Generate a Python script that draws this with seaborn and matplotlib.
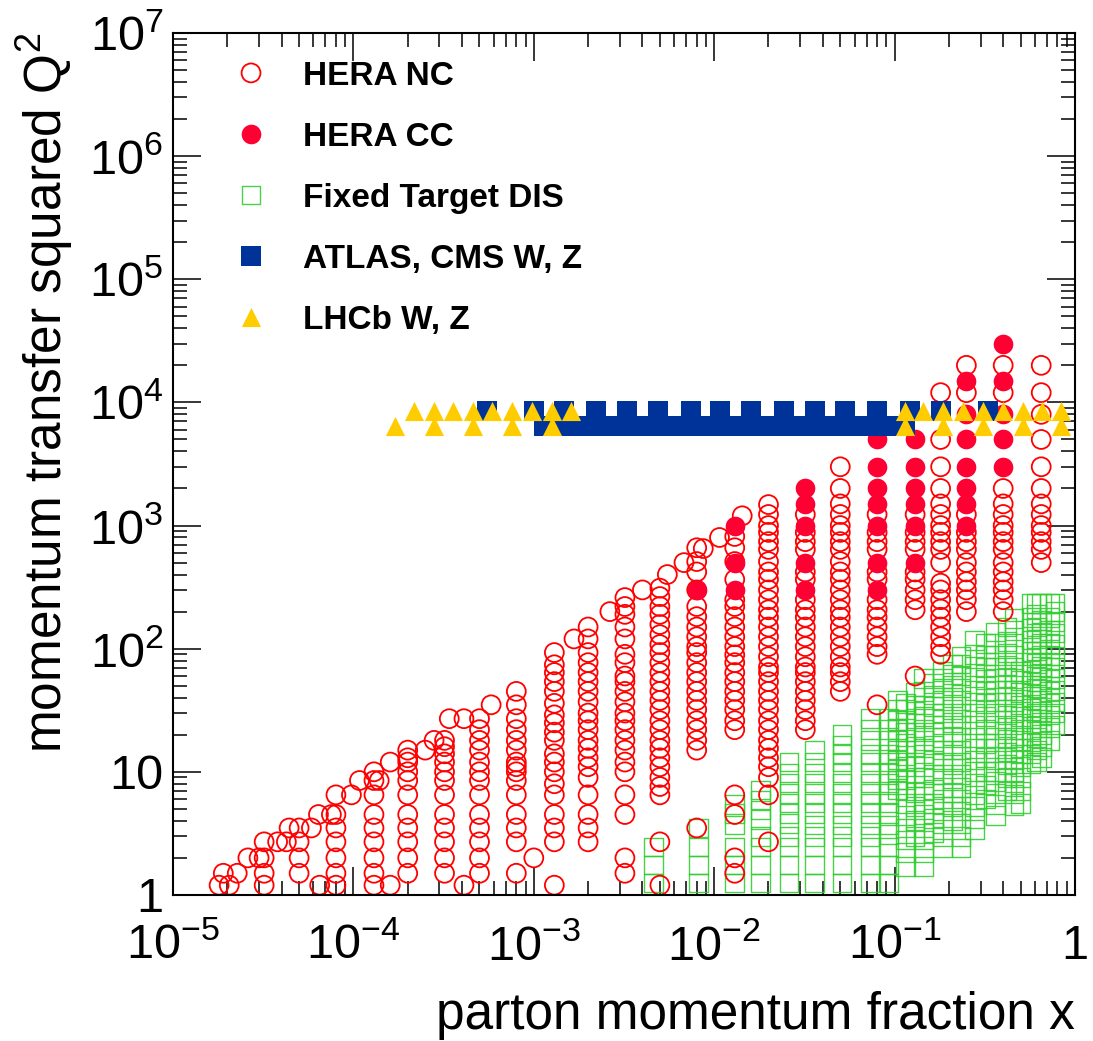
import numpy as np
import pandas as pd
import matplotlib
matplotlib.use("Agg")
import matplotlib.pyplot as plt
import seaborn as sns
from matplotlib.ticker import FixedLocator, FixedFormatter, LogLocator, NullFormatter

# ---------------- data ----------------
# HERA NC : x bin centres and the Q2 values drawn in each column
nc_x = [3.2e-5, 5e-5, 8e-5, 1.3e-4, 2e-4, 3.2e-4, 5e-4, 8e-4, 1.3e-3, 2e-3,
        3.2e-3, 5e-3, 8e-3, 1.3e-2, 2e-2, 3.2e-2, 5e-2, 8e-2, 0.13, 0.18,
        0.25, 0.4, 0.65]
nc_q2_01 = [1.2, 1.5, 2.0, 2.7]
nc_q2_02 = [1.5, 2.0, 2.7, 3.5]
nc_q2_03 = [1.2, 1.5, 2.0, 2.7, 3.5, 4.5, 6.5]
nc_q2_04 = [1.2, 1.5, 2.0, 2.7, 3.5, 4.5, 6.5, 8.5, 10]
nc_q2_05 = [1.5, 2.0, 2.7, 3.5, 4.5, 6.5, 8.5, 10, 12, 13, 15]
nc_q2_06 = [1.5, 2.0, 2.7, 3.5, 4.5, 6.5, 8.5, 10, 12, 14, 16, 18]
nc_q2_07 = [1.5, 2.0, 2.7, 3.5, 4.5, 6.5, 8.5, 10, 12, 15, 18, 22, 27]
nc_q2_08 = [1.5, 2.7, 3.5, 4.5, 6.5, 8.5, 10, 11, 12, 15, 18, 22, 27, 35, 45]
nc_q2_09 = [1.2, 2.7, 3.5, 4.5, 6.5, 8, 10, 12, 14, 18, 21, 25, 29, 36, 45,
            54, 64, 74, 93]
nc_q2_10 = [2.7, 3.5, 4.5, 6.5, 9, 11, 13, 15.5, 18, 22, 26, 30, 37, 45, 54,
            64, 77, 93, 120, 150]
nc_q2_11 = [1.5, 2.0, 4.5, 6.5, 10, 12, 15, 18, 22, 26, 30, 37, 45, 54, 60,
            77, 90, 120, 150, 190, 220, 260]
nc_q2_12 = [1.2, 2.7, 6.5, 7.6, 9, 11, 13, 15.5, 18, 22, 26, 32, 38, 45, 54,
            64, 77, 93, 108, 130, 157, 190, 220, 265, 310]
nc_q2_13 = [3.5, 15, 18, 22, 26, 32, 38, 45, 54, 64, 77, 93, 104, 125, 150,
            182, 220, 300, 420, 510, 660]
nc_q2_14 = [1.5, 2.0, 4.5, 6.5, 22, 26, 32, 38, 45, 54, 64, 77, 89, 104, 125,
            150, 182, 220, 250, 365, 510, 660, 815]
nc_q2_15 = [2.7, 6.5, 9, 11, 13, 15.5, 18, 22, 26, 32, 38, 45, 54, 64, 71, 86,
            104, 125, 150, 180, 207, 250, 300, 365, 420, 510, 640, 740, 880,
            1000, 1230, 1480]
nc_q2_16 = [22, 26, 32, 38, 45, 54, 64, 71, 86, 104, 125, 150, 180, 207, 250,
            365, 420, 640, 740, 880, 1230]
nc_q2_17 = [45, 54, 64, 71, 86, 104, 125, 150, 180, 207, 250, 300, 365, 420,
            510, 640, 740, 880, 1000, 1230, 1500, 2000, 3000]
nc_q2_18 = [35, 90, 104, 125, 150, 180, 207, 250, 365, 420, 640, 740, 880, 1230]
nc_q2_19 = [60, 207, 250, 300, 365, 420, 640, 740, 880, 1230]
nc_q2_20 = [90, 104, 125, 150, 180, 210, 250, 300, 340, 500, 640, 740, 880,
            1000, 1230, 1500, 2000, 3000, 5000, 12000]
nc_q2_21 = [200, 250, 300, 350, 420, 500, 640, 740, 880, 1230, 12000, 20000]
nc_q2_22 = [200, 250, 300, 350, 420, 500, 640, 740, 880, 1000, 1230, 1500,
            2000, 12000, 20000]
nc_q2_23 = [500, 640, 740, 880, 1000, 1230, 1500, 2000, 3000, 5000, 8000,
            12000, 20000]

# HERA NC points off the regular x grid (high-y edge)
nc_edge_x = [1.8e-5, 2.05e-5, 1.9e-5, 2.27e-5, 2.6e-5, 3.0e-5, 3.8e-5, 4.25e-5,
             4.4e-5, 5.85e-5, 6.5e-5, 6.4e-5, 7.55e-5, 9.75e-5, 1.08e-4,
             1.39e-4, 1.6e-4, 1.6e-4, 2.5e-4, 2.8e-4, 3.4e-4, 4.1e-4, 4.1e-4,
             5.8e-4, 1.0e-3, 1.67e-3, 2.64e-3, 4.0e-3, 5.5e-3, 6.8e-3, 8.7e-3,
             1.07e-2, 1.43e-2]
nc_edge_q2 = [1.2, 1.2, 1.5, 1.5, 2.0, 2.0, 2.7, 2.7, 3.5, 3.5, 1.2, 4.5, 4.5,
              6.5, 8.5, 8.5, 1.2, 12, 15, 18, 27, 27, 1.2, 35, 2.0, 120, 200,
              300, 400, 500, 650, 800, 1200]

# HERA CC
cc_x = [8e-3, 1.3e-2, 3.2e-2, 8e-2, 0.13, 0.25, 0.4]
cc_q2_1 = [300]
cc_q2_2 = [300, 500, 1000]
cc_q2_3 = [300, 500, 1000, 1500, 2000]
cc_q2_4 = [300, 500, 1000, 1500, 2000, 3000, 5000]
cc_q2_5 = [500, 1000, 1500, 2000, 3000, 5000]
cc_q2_6 = [1000, 1500, 2000, 3000, 5000, 8000, 15000]
cc_q2_7 = [3000, 5000, 8000, 15000, 30000]

# Fixed target DIS
ft_x = [4.6e-3, 8.2e-3, 1.3e-2, 1.8e-2, 2.6e-2, 3.6e-2, 5.1e-2, 7.3e-2, 9.3e-2,
        0.104, 0.115, 0.13, 0.145, 0.165, 0.185, 0.21, 0.233, 0.278, 0.32,
        0.364, 0.42, 0.46, 0.5, 0.57, 0.61, 0.65, 0.72, 0.775]
ft_q2_01 = [1.25, 1.75, 2.45]
ft_q2_02 = [1.25, 1.75, 2.45, 3.5]
ft_q2_03 = [1.25, 1.75, 2.45, 3.7, 4.6, 5.4]
ft_q2_04 = [1.25, 1.75, 2.45, 3.0, 4.1, 4.9, 5.9, 7.1]
ft_q2_05 = [1.25, 1.75, 2.45, 3.0, 3.8, 4.6, 5.6, 6.7, 8.1, 9.8, 12]
ft_q2_06 = [1.25, 1.75, 2.45, 3.0, 3.7, 4.6, 5.6, 6.7, 8.1, 9.8, 12, 15]
ft_q2_07 = [1.25, 1.75, 2.45, 3.0, 3.7, 4.6, 5.6, 6.7, 8.1, 9.8, 12, 14, 16.5, 20]
ft_q2_08 = [1.25, 1.75, 2.45, 3.0, 3.7, 4.6, 5.6, 6.7, 8.1, 9.8, 12, 14, 18, 22, 27]
ft_q2_09 = [1.25, 1.75, 2.45, 3.1, 3.7, 4.6, 5.6, 6.7, 8.1, 9.8, 12, 14, 18, 22, 27]
ft_q2_10 = [7.1, 8.6, 10.4, 12.5, 15, 18, 22, 26, 32, 38]
ft_q2_11 = [1.7, 2.2, 2.8, 3.5, 4.4, 5.5, 7, 8.7, 11, 13.5, 17, 21, 26, 32, 36]
ft_q2_12 = [3.0, 4.0, 5.2, 6.8, 9, 12, 16, 21, 27, 35, 44]
ft_q2_13 = [1.7, 2.2, 2.8, 3.5, 4.5, 5.5, 7, 9, 11, 14, 18, 22, 28, 35, 45, 57]
ft_q2_14 = [3.2, 4.2, 5.5, 7.2, 9.5, 12.5, 16.5, 21, 27, 34, 42, 52]
ft_q2_15 = [2.4, 3.0, 3.8, 4.8, 6, 7.5, 9.5, 12, 15, 19, 24, 30, 38, 48, 57, 65]
ft_q2_16 = [4.0, 5.2, 6.8, 8.8, 11.5, 15, 19.5, 25, 32, 40, 50, 62, 75]
ft_q2_17 = [2.4, 3.0, 3.8, 4.8, 6, 7.5, 9.5, 12, 15, 19, 24, 30, 38, 48, 60, 75, 86]
ft_q2_18 = [3.4, 4.2, 5.2, 6.5, 8, 10, 12.5, 15.5, 19, 24, 30, 37, 46, 58, 72,
            90, 116]
ft_q2_19 = [6, 7.8, 10, 13, 17, 22, 28, 36, 45, 56, 70, 88, 110]
ft_q2_20 = [4.4, 5.4, 6.7, 8.3, 10, 12.5, 15.5, 19, 24, 30, 37, 46, 57, 71, 88,
            110, 137]
ft_q2_21 = [7, 9, 11.5, 14.5, 18.5, 23, 29, 37, 46, 58, 73, 92, 115, 150]
ft_q2_22 = [5.3, 6.6, 8.2, 10, 12.5, 15.5, 19, 24, 30, 37, 46, 57, 71, 88, 110,
            140, 175]
ft_q2_23 = [5.5, 7, 9, 11, 14, 18, 22, 28, 35, 44, 55, 65]
ft_q2_24 = [11.6, 14, 17.5, 22, 27, 33, 41, 50, 62, 77, 95, 118, 145, 180, 232]
ft_q2_25 = [12, 15, 19, 24, 30, 38, 48, 60, 76, 96, 120, 150, 190, 232]
ft_q2_26 = [13, 16, 20, 25, 31, 38, 47, 58, 72, 89, 110, 136, 170, 232]
ft_q2_27 = [18, 23, 29, 36, 45, 56, 70, 88, 110, 140, 180, 232]
ft_q2_28 = [24, 30, 37, 46, 57, 70, 87, 108, 134, 166, 200, 232]

# ATLAS, CMS W, Z  (Z row and W row)
lhc_z_x = [5.5e-4, 1.0e-3, 1.47e-3, 2.2e-3, 3.3e-3, 4.9e-3, 7.4e-3, 1.08e-2,
           1.6e-2, 2.45e-2, 3.6e-2, 5.3e-2, 8.0e-2, 0.121, 0.18, 0.33]
lhc_w_x = [1.14e-3, 1.43e-3, 1.8e-3, 2.27e-3, 2.86e-3, 3.6e-3, 4.5e-3, 5.7e-3,
           7.2e-3, 9.0e-3, 1.14e-2, 1.43e-2, 1.8e-2, 2.27e-2, 2.86e-2, 3.6e-2,
           4.5e-2, 5.7e-2, 7.2e-2, 9.0e-2, 0.114]
# LHCb W, Z
lhcb_z_x = [2.18e-4, 2.78e-4, 3.55e-4, 4.58e-4, 5.9e-4, 7.55e-4, 9.75e-4,
            1.26e-3, 1.6e-3, 0.114, 0.143, 0.185, 0.239, 0.308, 0.398, 0.514,
            0.656, 0.836]
lhcb_w_x = [1.69e-4, 2.78e-4, 4.58e-4, 7.55e-4, 1.26e-3, 0.114, 0.185, 0.308,
            0.514, 0.836]
q2_z = 8500
q2_w = 6400

x_ticks = [1e-5, 1e-4, 1e-3, 1e-2, 1e-1, 1]
x_tick_labels = ["$10^{-5}$", "$10^{-4}$", "$10^{-3}$", "$10^{-2}$", "$10^{-1}$", "1"]
y_ticks = [1, 10, 1e2, 1e3, 1e4, 1e5, 1e6, 1e7]
y_tick_labels = ["1", "10", "$10^{2}$", "$10^{3}$", "$10^{4}$", "$10^{5}$",
                 "$10^{6}$", "$10^{7}$"]


def columns_to_frame(xs, cols):
    rows = [(x, q) for x, col in zip(xs, cols) for q in col]
    return pd.DataFrame(rows, columns=["x", "Q2"])


nc_cols = [nc_q2_01, nc_q2_02, nc_q2_03, nc_q2_04, nc_q2_05, nc_q2_06, nc_q2_07,
           nc_q2_08, nc_q2_09, nc_q2_10, nc_q2_11, nc_q2_12, nc_q2_13, nc_q2_14,
           nc_q2_15, nc_q2_16, nc_q2_17, nc_q2_18, nc_q2_19, nc_q2_20, nc_q2_21,
           nc_q2_22, nc_q2_23]
nc = pd.concat([columns_to_frame(nc_x, nc_cols),
                pd.DataFrame({"x": nc_edge_x, "Q2": nc_edge_q2})])
cc = columns_to_frame(cc_x, [cc_q2_1, cc_q2_2, cc_q2_3, cc_q2_4, cc_q2_5,
                             cc_q2_6, cc_q2_7])
ft = columns_to_frame(ft_x, [ft_q2_01, ft_q2_02, ft_q2_03, ft_q2_04, ft_q2_05,
                             ft_q2_06, ft_q2_07, ft_q2_08, ft_q2_09, ft_q2_10,
                             ft_q2_11, ft_q2_12, ft_q2_13, ft_q2_14, ft_q2_15,
                             ft_q2_16, ft_q2_17, ft_q2_18, ft_q2_19, ft_q2_20,
                             ft_q2_21, ft_q2_22, ft_q2_23, ft_q2_24, ft_q2_25,
                             ft_q2_26, ft_q2_27, ft_q2_28])
lhc = pd.DataFrame({"x": lhc_z_x + lhc_w_x,
                    "Q2": [q2_z] * len(lhc_z_x) + [q2_w] * len(lhc_w_x)})
lhcb = pd.DataFrame({"x": lhcb_z_x + lhcb_w_x,
                     "Q2": [q2_z] * len(lhcb_z_x) + [q2_w] * len(lhcb_w_x)})

# ---------------- style ----------------
sns.set_theme(style="white", rc={"text.color": "black", "axes.labelcolor": "black",
                                 "xtick.color": "black", "ytick.color": "black",
                                 "axes.edgecolor": "black"})
plt.rcParams["font.family"] = ["Liberation Sans", "DejaVu Sans"]
plt.rcParams["mathtext.fontset"] = "custom"
plt.rcParams["mathtext.rm"] = "Liberation Sans"
plt.rcParams["mathtext.it"] = "Liberation Sans:italic"
plt.rcParams["mathtext.bf"] = "Liberation Sans:bold"

fig = plt.figure(figsize=(10.93, 10.41), dpi=100)
ax = fig.add_axes([0.1583, 0.1403, 0.8252, 0.828])

sns.scatterplot(x=ft["x"], y=ft["Q2"], ax=ax, marker="s", s=180, color="#33cc33",
                facecolors="none", edgecolor="#33cc33", linewidth=1.0, alpha=0.9,
                label="Fixed Target DIS")
sns.scatterplot(x=nc["x"], y=nc["Q2"], ax=ax, marker="o", s=185, color="#ff0000",
                facecolors="none", edgecolor="#ff0000", linewidth=1.3,
                label="HERA NC")
sns.scatterplot(x=cc["x"], y=cc["Q2"], ax=ax, marker="o", s=200, color="#ff0033",
                edgecolor="#ff0033", linewidth=0, label="HERA CC")
sns.scatterplot(x=lhc["x"], y=lhc["Q2"], ax=ax, marker="s", s=190, color="#003399",
                edgecolor="#003399", linewidth=0, label="ATLAS, CMS W, Z")
sns.scatterplot(x=lhcb["x"], y=lhcb["Q2"], ax=ax, marker="^", s=190, color="#ffcc00",
                edgecolor="#ffcc00", linewidth=0, label="LHCb W, Z")

ax.set_xscale("log")
ax.set_yscale("log")
ax.set_xlim(1e-5, 1)
ax.set_ylim(1, 1e7)

ax.xaxis.set_major_locator(FixedLocator(x_ticks))
ax.xaxis.set_major_formatter(FixedFormatter(x_tick_labels))
ax.xaxis.set_minor_locator(LogLocator(base=10, subs=np.arange(2, 10), numticks=30))
ax.xaxis.set_minor_formatter(NullFormatter())
ax.yaxis.set_major_locator(FixedLocator(y_ticks))
ax.yaxis.set_major_formatter(FixedFormatter(y_tick_labels))
ax.yaxis.set_minor_locator(LogLocator(base=10, subs=np.arange(2, 10), numticks=30))
ax.yaxis.set_minor_formatter(NullFormatter())

ax.tick_params(which="both", direction="in", top=True, right=True, bottom=True,
               left=True, width=1.1, color="black")
ax.tick_params(which="major", length=20, labelsize=35)
ax.tick_params(which="minor", length=10)
ax.tick_params(axis="x", which="major", pad=21)
ax.tick_params(axis="y", which="major", pad=7)
for sp in ax.spines.values():
    sp.set_linewidth(1.5)
    sp.set_color("black")

ax.set_xlabel("parton momentum fraction x", fontsize=37, loc="right")
ax.xaxis.set_label_coords(1.0, -0.112)
ax.set_ylabel("momentum transfer squared Q$^2$", fontsize=37, loc="top")
ax.yaxis.set_label_coords(-0.1086, 1.0)

handles, labels = ax.get_legend_handles_labels()
hmap = dict(zip(labels, handles))
order = ["HERA NC", "HERA CC", "Fixed Target DIS", "ATLAS, CMS W, Z", "LHCb W, Z"]
ax.legend([hmap[k] for k in order], order, loc="upper left",
          bbox_to_anchor=(0.068, 0.968), frameon=False,
          prop={"weight": "bold", "size": 24}, handlelength=1.0,
          handletextpad=1.05, labelspacing=0.9, borderpad=0, borderaxespad=0,
          scatterpoints=1, scatteryoffsets=[0.5])

fig.savefig("out.png", dpi=100)
